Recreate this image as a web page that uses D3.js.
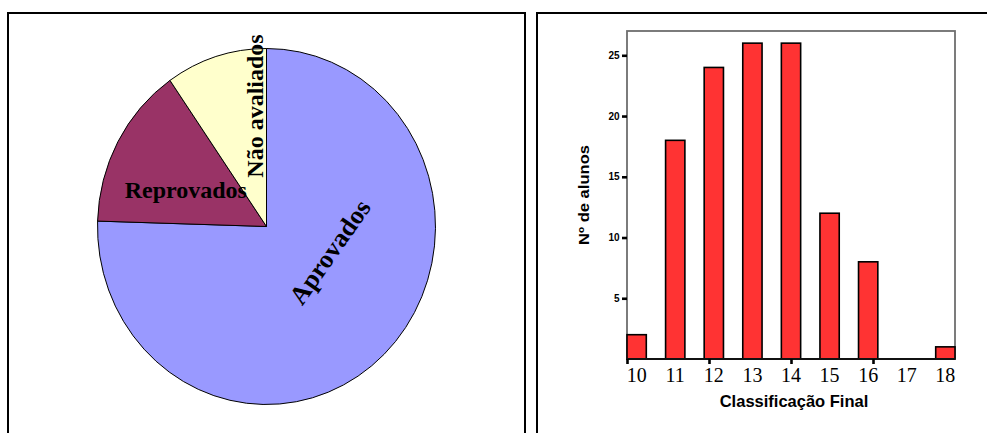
<!DOCTYPE html>
<html>
<head>
<meta charset="utf-8">
<script src="https://cdn.jsdelivr.net/npm/d3@7"></script>
<style>
  html, body { margin: 0; padding: 0; background: #fff; }
  svg { display: block; }
</style>
</head>
<body>
<svg id="chart" width="987" height="433"></svg>
<script>
// Pie: situação final dos alunos
const pieLabels = ["Aprovados", "Reprovados", "Não avaliados"];
const pieValues = [117, 23, 15];
const pieColors = ["#9999ff", "#993366", "#ffffcc"];

// Histogram: classificação final
const grades = ["10", "11", "12", "13", "14", "15", "16", "17", "18"];
const counts = [2, 18, 24, 26, 26, 12, 8, 0, 1];
const yTicks = [5, 10, 15, 20, 25];
const xAxisTicks = [10, 12, 14, 16];

const svg = d3.select("#chart");

// ---- panel frames (open at the bottom / right) ----
svg.append("path")
  .attr("d", "M8,440 V13 H525 V440")
  .attr("fill", "none").attr("stroke", "#000").attr("stroke-width", 2);
svg.append("path")
  .attr("d", "M537,440 V13 H995")
  .attr("fill", "none").attr("stroke", "#000").attr("stroke-width", 2);

// ---- pie chart (slightly elliptical) ----
const cx = 266.5, cy = 226.5, rx = 169, ry = 178;
const pie = d3.pie().sort(null).value(d => d.v);
const arc = d3.arc().innerRadius(0).outerRadius(ry);
const pieData = pie(pieLabels.map((l, i) => ({ l, v: pieValues[i], c: pieColors[i] })));

const pg = svg.append("g")
  .attr("transform", `translate(${cx},${cy}) scale(${rx / ry},1)`);
pg.selectAll("path")
  .data(pieData)
  .join("path")
  .attr("d", arc)
  .attr("fill", d => d.data.c)
  .attr("stroke", "#000")
  .attr("stroke-width", 1)
  .attr("vector-effect", "non-scaling-stroke");

const serif = "'Liberation Serif', 'Times New Roman', serif";
const pieText = svg.append("g")
  .attr("font-family", serif)
  .attr("font-weight", "bold")
  .attr("fill", "#000");

pieText.append("text")
  .attr("transform", `translate(${cx - 3.5},${cy - 120.5}) rotate(-90)`)
  .attr("text-anchor", "middle")
  .attr("font-size", 24)
  .text(pieLabels[2]);

pieText.append("text")
  .attr("x", cx - 80.7).attr("y", cy - 28.2)
  .attr("text-anchor", "middle")
  .attr("font-size", 24)
  .text(pieLabels[1]);

pieText.append("text")
  .attr("transform", `translate(${cx + 63.5},${cy + 25.5}) rotate(-55)`)
  .attr("text-anchor", "middle")
  .attr("dy", "0.33em")
  .attr("font-size", 26)
  .text(pieLabels[0]);

// ---- bar chart ----
const sans = "'Liberation Sans', Arial, sans-serif";
const plotL = 627, plotR = 955, plotT = 31, plotB = 359;

const x = d3.scaleBand().domain(grades).range([plotL, plotR])
  .paddingInner(0.5).paddingOuter(0);
const xLin = d3.scaleLinear().domain([10, 18]).range([plotL, plotR]);
const y = d3.scaleLinear().domain([0, 27]).range([plotB, plotT]);

// plot frame
svg.append("rect")
  .attr("x", plotL).attr("y", plotT)
  .attr("width", plotR - plotL).attr("height", plotB - plotT)
  .attr("fill", "none").attr("stroke", "#6e6e6e").attr("stroke-width", 1.8);

// bars
svg.append("g").selectAll("rect")
  .data(grades.map((g, i) => ({ g, v: counts[i] })).filter(d => d.v > 0))
  .join("rect")
  .attr("x", d => x(d.g))
  .attr("y", d => y(d.v))
  .attr("width", x.bandwidth())
  .attr("height", d => y(0) - y(d.v))
  .attr("fill", "#ff3333")
  .attr("stroke", "#000")
  .attr("stroke-width", 1.6);

// baseline
svg.append("line")
  .attr("x1", plotL).attr("x2", plotR)
  .attr("y1", plotB).attr("y2", plotB)
  .attr("stroke", "#111").attr("stroke-width", 1.8);

// y axis
const yAxis = svg.append("g")
  .attr("transform", `translate(${plotL},0)`)
  .call(d3.axisLeft(y).tickValues(yTicks).tickSize(5).tickPadding(2.5));
yAxis.select(".domain").remove();
yAxis.selectAll(".tick line").attr("stroke", "#000").attr("stroke-width", 2.6);
yAxis.selectAll(".tick text")
  .attr("font-family", sans).attr("font-weight", "bold")
  .attr("font-size", 10).attr("fill", "#000");

// x axis ticks (continuous grade scale)
const xAxis = svg.append("g")
  .attr("transform", `translate(0,${plotB})`)
  .call(d3.axisBottom(xLin).tickValues(xAxisTicks).tickSize(5).tickFormat(""));
xAxis.select(".domain").remove();
xAxis.selectAll(".tick line").attr("stroke", "#000").attr("stroke-width", 2.6);

// grade labels under each bar
svg.append("g").selectAll("text")
  .data(grades)
  .join("text")
  .attr("x", d => x(d) + x.bandwidth() / 2)
  .attr("y", 382)
  .attr("text-anchor", "middle")
  .attr("font-family", serif)
  .attr("font-size", 20)
  .attr("fill", "#000")
  .text(d => d);

// axis titles
svg.append("text")
  .attr("x", 794).attr("y", 406.5)
  .attr("text-anchor", "middle")
  .attr("font-family", sans).attr("font-weight", "bold")
  .attr("font-size", 16.5)
  .text("Classificação Final");

svg.append("text")
  .attr("transform", "translate(588.5,195) rotate(-90)")
  .attr("text-anchor", "middle")
  .attr("font-family", sans).attr("font-weight", "bold")
  .attr("font-size", 15)
  .attr("textLength", 100).attr("lengthAdjust", "spacingAndGlyphs")
  .text("Nº de alunos");
</script>
</body>
</html>
